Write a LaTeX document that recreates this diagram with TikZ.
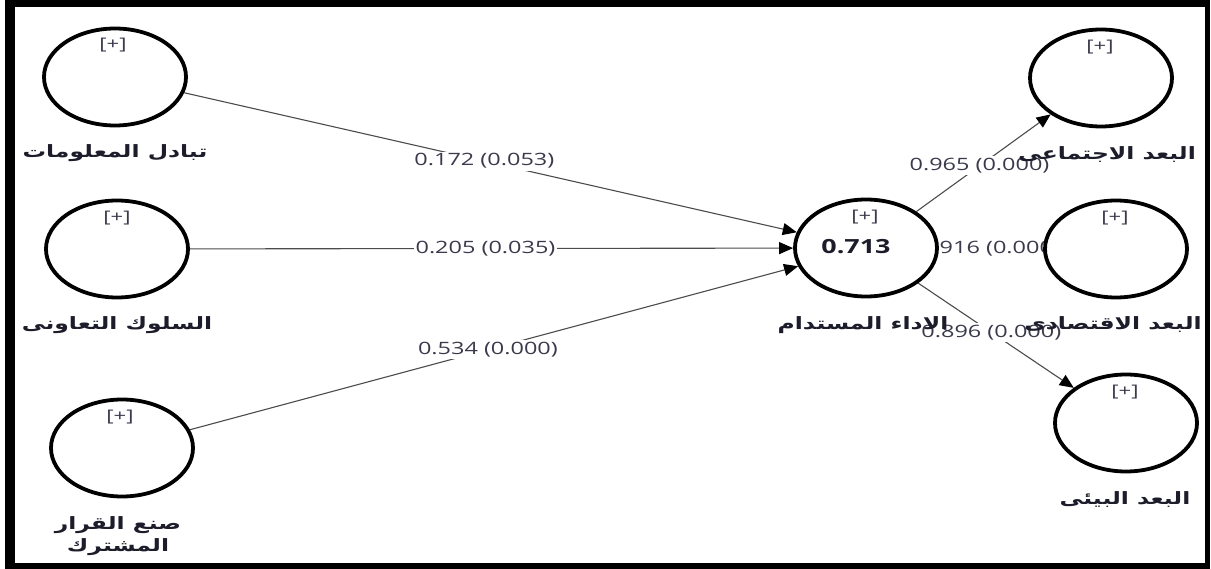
\documentclass[tikz,border=0pt]{standalone}
\usepackage{fontspec}
\setmainfont{Open Sans}[FakeStretch=1.38]
\newfontfamily\arabicfont[Script=Arabic,FakeStretch=1.38]{DejaVu Sans}
\TeXXeTstate=1
\usetikzlibrary{shapes.geometric,arrows.meta}
\pgfdeclarelayer{framelayer}
\pgfdeclarelayer{edgelayer}
\pgfsetlayers{framelayer,edgelayer,main}
\definecolor{numcol}{HTML}{3A3A4C}
\definecolor{labcol}{HTML}{1C1C2A}
\tikzset{
 lv/.style={ellipse, draw=black, line width=3.8pt, fill=white, minimum width=142pt, minimum height=97pt, inner sep=0pt},
 plus/.style={font=\fontsize{16}{16}\selectfont, text=numcol, inner sep=0pt},
 alab/.style={font=\arabicfont\bfseries\fontsize{17}{22}\selectfont, text=labcol, align=center, inner sep=0pt},
 coef/.style={font=\fontsize{17}{18}\selectfont, text=numcol, fill=white, inner sep=2pt},
 conn/.style={draw=black!70, line width=1.1pt, -{Triangle[length=14pt,width=12pt,color=black]}},
}
\begin{document}
\begin{tikzpicture}[x=1pt,y=-1pt]
\useasboundingbox (0,0) rectangle (1211,569);
\begin{pgfonlayer}{framelayer}
\fill[white] (0,0) rectangle (1211,569);
\fill[black] (5,0) rectangle (1210,569);
\fill[white] (15,7) rectangle (1205,563);
\end{pgfonlayer}
% latent variables
\node[lv] (a1) at (115,77) {};
\node[lv] (a2) at (117,249) {};
\node[lv] (a3) at (122,448) {};
\node[lv] (c) at (866,248) {};
\node[lv] (d1) at (1101,78) {};
\node[lv] (d2) at (1116,249) {};
\node[lv] (d3) at (1126,423) {};
% connectors
\begin{pgfonlayer}{edgelayer}
\draw[conn] (a1) -- node[coef, pos=0.49] (e1) {0.172 (0.053)} (c);
\draw[conn] (a2) -- node[coef, pos=0.49] (e2) {0.205 (0.035)} (c);
\draw[conn] (a3) -- node[coef, pos=0.49] (e3) {0.534 (0.000)} (c);
\draw[conn] (c) -- node[coef, pos=0.47] (e4) {0.965 (0.000)} (d1);
\draw[conn] (c) -- node[coef, pos=0.49] (e5) {0.916 (0.000)} (d2);
\draw[conn] (c) -- node[coef, pos=0.47] (e6) {0.896 (0.000)} (d3);
\end{pgfonlayer}
% [+] markers
\node[plus] (p1) at (113,45) {[+]};
\node[plus] (p2) at (117,218) {[+]};
\node[plus] (p3) at (120,417) {[+]};
\node[plus] (pc) at (865,217) {[+]};
\node[plus] (q1) at (1100,47) {[+]};
\node[plus] (q2) at (1115,218) {[+]};
\node[plus] (q3) at (1125,392) {[+]};
% R2
\node[font=\bfseries\fontsize{19.5}{20}\selectfont, text=labcol] (r2) at (856,247) {0.713};
% labels
\node[alab] (la1) at (115,153) {\beginR تبادل المعلومات\endR};
\node[alab] (la2) at (117,325) {\beginR السلوك التعاونى\endR};
\node[alab] (la3) at (118,536) {\beginR صنع القرار\endR\\\beginR المشترك\endR};
\node[alab] (lc) at (863,325) {\beginR الاداء المستدام\endR};
\node[alab] (ld1) at (1107,155) {\beginR البعد الاجتماعى\endR};
\node[alab] (ld2) at (1113,325) {\beginR البعد الاقتصادى\endR};
\node[alab] (ld3) at (1125,500) {\beginR البعد البيئى\endR};
\end{tikzpicture}
\end{document}
